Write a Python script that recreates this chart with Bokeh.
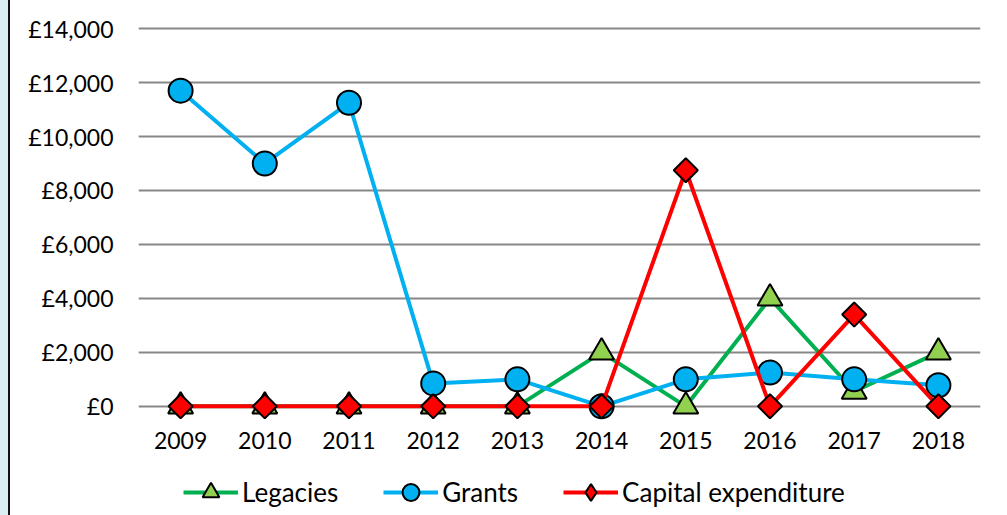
import numpy as np
from bokeh.plotting import figure
from bokeh.layouts import column
from bokeh.models import (FactorRange, Range1d, FixedTicker, Legend, LegendItem,
                          GlobalInlineStyleSheet)
from bokeh.embed import file_html
from bokeh.resources import INLINE

years = ["2009", "2010", "2011", "2012", "2013", "2014", "2015", "2016", "2017", "2018"]
legacies = [0, 0, 0, 0, 0, 2000, 0, 4000, 550, 2000]
grants = [11700, 9000, 11250, 850, 1000, 0, 1000, 1250, 1000, 780]
capex = [0, 0, 0, 0, 0, 0, 8750, 0, 3400, 0]
y_ticks = [0, 2000, 4000, 6000, 8000, 10000, 12000, 14000]
series_names = ["Legacies", "Grants", "Capital expenditure"]

FONT = "Lato"
GREEN, GREEN_FILL = "#00B050", "#92D050"
BLUE = "#00B0F0"
RED = "#FF0000"

styles = [
    dict(values=legacies, color=GREEN, marker="triangle", legend_marker="triangle",
         fill=GREEN_FILL, size=25, angle=0.0),
    dict(values=grants, color=BLUE, marker="circle", legend_marker="circle",
         fill=BLUE, size=24, angle=0.0),
    dict(values=capex, color=RED, marker="square", legend_marker="diamond",
         fill=RED, size=17, angle=np.pi / 4),
]

p = figure(width=1000, height=470, output_backend="svg", toolbar_location=None,
           x_range=FactorRange(*years), y_range=Range1d(-600, 14300),
           min_border_left=138, min_border_right=20, min_border_top=20,
           min_border_bottom=48)
p.border_fill_color = None
p.background_fill_color = "white"
p.outline_line_color = None

p.stylesheets = [GlobalInlineStyleSheet(css="body { background: linear-gradient(to right, #DAEEF3 0px, #DAEEF3 8px, #111111 8px, #111111 10px, #ffffff 10px); }")]

# grid
p.xgrid.grid_line_color = None
p.ygrid.grid_line_color = "#878787"
p.ygrid.grid_line_width = 2

# axes
p.yaxis.ticker = FixedTicker(ticks=y_ticks)
p.yaxis.major_label_overrides = {v: f"£{v:,}" for v in y_ticks}
p.yaxis.axis_line_color = None
p.yaxis.major_tick_line_color = None
p.yaxis.minor_tick_line_color = None
p.yaxis.major_tick_out = 0
p.yaxis.major_tick_in = 0
p.yaxis.major_label_standoff = 25
p.yaxis.major_label_text_font = FONT
p.yaxis.major_label_text_font_size = "23px"
p.yaxis.major_label_text_color = "black"

p.xaxis.axis_line_color = None
p.xaxis.major_tick_line_color = None
p.xaxis.major_tick_out = 0
p.xaxis.major_tick_in = 0
p.xaxis.major_label_standoff = 9
p.xaxis.major_label_text_font = FONT
p.xaxis.major_label_text_font_size = "23px"
p.xaxis.major_label_text_color = "black"

# series
for st in styles:
    p.line(years, st["values"], line_color=st["color"], line_width=4)
    p.scatter(years, st["values"], marker=st["marker"], size=st["size"],
              angle=st["angle"], fill_color=st["fill"], line_color="black",
              line_width=2)

# legend strip: a small figure under the chart whose view window lies
# outside the data, so only its legend shows
q = figure(width=1000, height=45, output_backend="svg", toolbar_location=None,
           x_range=p.x_range, y_range=Range1d(50000, 60000),
           x_axis_type=None, y_axis_type=None,
           min_border_left=138, min_border_right=20, min_border_top=0,
           min_border_bottom=0)
q.border_fill_color = None
q.background_fill_color = None
q.outline_line_color = None
q.xgrid.visible = False
q.ygrid.visible = False

items = []
for name, st in zip(series_names, styles):
    ln = q.line(years, st["values"], line_color=st["color"], line_width=4)
    sc = q.scatter(years, st["values"], marker=st["legend_marker"], fill_color=st["fill"],
                   line_color="black", line_width=2)
    items.append(LegendItem(label=name, renderers=[ln, sc]))

legend = Legend(items=items, orientation="horizontal", location=(45, 2))
legend.background_fill_alpha = 0
legend.border_line_color = None
legend.padding = 0
legend.margin = 0
legend.spacing = 45
legend.glyph_width = 55
legend.glyph_height = 42
legend.label_standoff = 4
legend.label_text_font = FONT
legend.label_text_font_size = "26px"
legend.label_text_color = "black"
legend.label_height = 42
q.add_layout(legend, "center")

layout = column(p, q, spacing=0)
open("out.html", "w").write(file_html(layout, INLINE))
